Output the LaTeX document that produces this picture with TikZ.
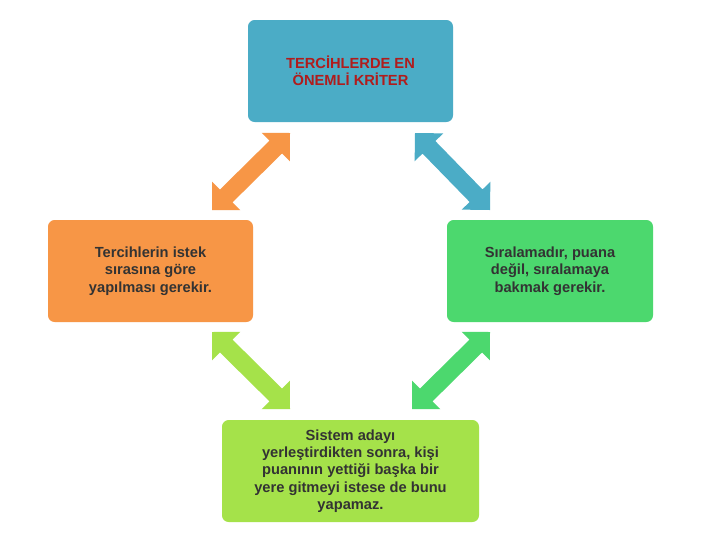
\documentclass[tikz,border=0pt]{standalone}
\usepackage{fontspec}
\setmainfont{Liberation Sans}
\usetikzlibrary{calc}
\definecolor{cblue}{HTML}{4BACC6}
\definecolor{corange}{HTML}{F79646}
\definecolor{cgreen}{HTML}{4CD86E}
\definecolor{clime}{HTML}{A5E24A}
\definecolor{cred}{HTML}{B01C1C}
\definecolor{ctext}{HTML}{333333}
\tikzset{
  box/.style={rounded corners=5pt, inner sep=0pt, align=center, font=\bfseries\fontsize{11}{13}\selectfont, text=ctext},
}
\newcommand{\dblarr}[3]{%
 \fill[#3] (#1) -- ($(#1)!21.2pt!45:(#2)$) -- ($(#1)!16.4pt!24.2:(#2)$) -- ($(#2)!16.4pt!-24.2:(#1)$) -- ($(#2)!21.2pt!-45:(#1)$) -- (#2) -- ($(#2)!21.2pt!45:(#1)$) -- ($(#2)!16.4pt!24.2:(#1)$) -- ($(#1)!16.4pt!-24.2:(#2)$) -- ($(#1)!21.2pt!-45:(#2)$) -- cycle;}
\begin{document}
\begin{tikzpicture}[x=0.75pt,y=-0.75pt]
\useasboundingbox[fill=white] (0,0) rectangle (720,540);
\path[box,fill=cblue] (248,20) rectangle (453,122);
\node[box,text=cred] (top) at (350.5,71) {TERCİHLERDE EN\\ÖNEMLİ KRİTER};
\path[box,fill=corange] (48,220) rectangle (253,322);
\node[box] (left) at (150.5,271) {Tercihlerin istek\\sırasına göre\\yapılması gerekir.};
\path[box,fill=cgreen] (447,220) rectangle (653,322);
\node[box] (right) at (550,271) {Sıralamadır, puana\\değil, sıralamaya\\bakmak gerekir.};
\path[box,fill=clime] (222,420) rectangle (479,522);
\node[box] (bot) at (350.5,471) {Sistem adayı\\yerleştirdikten sonra, kişi\\puanının yettiği başka bir\\yere gitmeyi istese de bunu\\yapamaz.};
\coordinate (o1) at (212,210); \coordinate (o2) at (290,133);
\coordinate (b1) at (415,133); \coordinate (b2) at (490,210);
\coordinate (l1) at (212,332); \coordinate (l2) at (290,409);
\coordinate (g1) at (490,332); \coordinate (g2) at (412,409);
\dblarr{o1}{o2}{corange}
\dblarr{b1}{b2}{cblue}
\dblarr{l1}{l2}{clime}
\dblarr{g1}{g2}{cgreen}
\end{tikzpicture}
\end{document}
